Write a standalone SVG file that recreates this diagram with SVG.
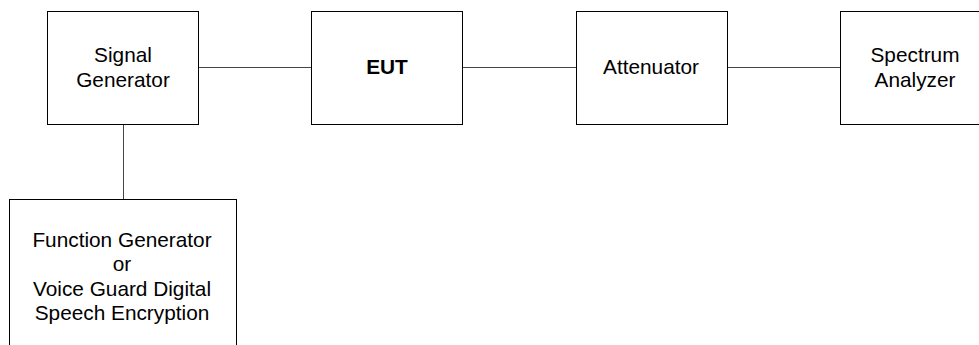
<svg xmlns="http://www.w3.org/2000/svg" width="979" height="345" viewBox="0 0 979 345">
<style>
.box{fill:#fff;stroke:#000;stroke-width:1}
.lbl{font-family:"Liberation Sans",Arial,sans-serif;font-size:20.8px;fill:#000;text-anchor:middle}
.b{font-weight:bold}
.conn{stroke:#444;stroke-width:1;fill:none}
</style>
<rect width="979" height="345" fill="#fff"/>
<g id="connectors">
<line class="conn" x1="198.5" y1="67.5" x2="311.5" y2="67.5"/>
<line class="conn" x1="462.5" y1="67.5" x2="576.5" y2="67.5"/>
<line class="conn" x1="727.5" y1="67.5" x2="840.5" y2="67.5"/>
<line class="conn" x1="123.5" y1="124.5" x2="123.5" y2="199.5"/>
</g>
<g id="signal-generator">
<rect class="box" x="47.5" y="11.5" width="151" height="113"/>
<text class="lbl" x="123" y="62">Signal</text>
<text class="lbl" x="123" y="87">Generator</text>
</g>
<g id="eut">
<rect class="box" x="311.5" y="11.5" width="151" height="113"/>
<text class="lbl b" x="387" y="74">EUT</text>
</g>
<g id="attenuator">
<rect class="box" x="576.5" y="11.5" width="151" height="113"/>
<text class="lbl" x="651" y="74">Attenuator</text>
</g>
<g id="spectrum-analyzer">
<rect class="box" x="840.5" y="11.5" width="151" height="113"/>
<text class="lbl" x="915" y="62">Spectrum</text>
<text class="lbl" x="915" y="87">Analyzer</text>
</g>
<g id="function-generator">
<rect class="box" x="9.5" y="199.5" width="227" height="170"/>
<text class="lbl" x="122" y="247">Function Generator</text>
<text class="lbl" x="122" y="271">or</text>
<text class="lbl" x="122" y="296">Voice Guard Digital</text>
<text class="lbl" x="122" y="320">Speech Encryption</text>
</g>
</svg>
